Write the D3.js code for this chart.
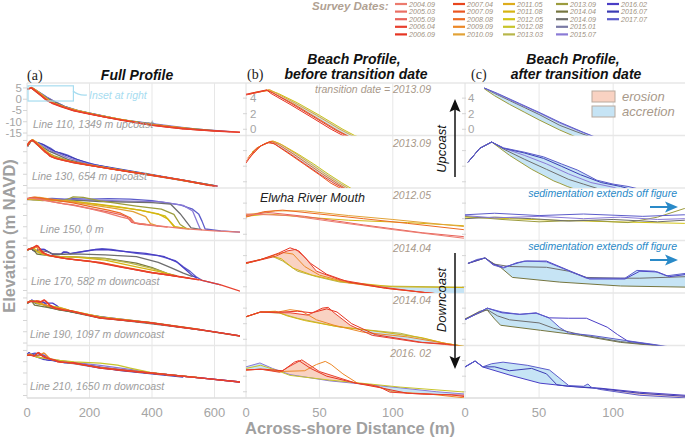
<!DOCTYPE html>
<html><head><meta charset="utf-8">
<script src="https://cdn.jsdelivr.net/npm/d3@7"></script>
<style>
body{margin:0;background:#fff}
svg{display:block}
text{font-family:"Liberation Sans",Arial,Helvetica,sans-serif}
</style>
</head><body>
<svg id="chart" width="685" height="439"></svg>
<script>
// ---------------- DATA ----------------
const surveyDates = ["2004.09","2005.03","2005.09","2006.04","2006.09",
  "2007.04","2007.09","2008.08","2009.09","2010.09",
  "2011.05","2011.08","2012.05","2012.08","2013.03",
  "2013.09","2014.04","2014.09","2015.01","2015.07",
  "2016.02","2016.07","2017.07"];
const surveyColors = ["#ec7b6e","#ea6f64","#e8625a","#e8402e","#e63422",
  "#e8461e","#ea5620","#ec6a22","#ec8826","#e2a236",
  "#deac1c","#d6b412","#d2c416","#c8c42a","#b8b64a",
  "#9c9c3e","#767640","#6e6e6e","#7a7aa4","#8a7ad6",
  "#4a3ec6","#3c3cb4","#5c5cca"];
const lineNames = ["Line 110, 1349 m upcoast","Line 130, 654 m upcoast","Line 150, 0 m",
  "Line 170, 582 m downcoast","Line 190, 1097 m downcoast","Line 210, 1650 m downcoast"];
const transitionDates = ["2013.09","2013.09","2012.05","2014.04","2014.04","2016.02"];
const transitionLabels = ["transition date =  2013.09","2013.09","2012.05","2014.04","2014.04","2016. 02"];
const showFill = [true,true,false,true,true,true];
const xTicksFull = [0,200,400,600];
const xTicksBeach = [0,50,100];
const yTicksFull = [5,0,-5,-10,-15];
const yTicksBeach = [4,2,0];

// profiles: [across-shore distance (m), elevation (m NAVD)]
const line110 = [
 {date:"2006.04", pts:[[0,4.4],[14,5.0],[18,4.7],[30,3.4],[45,1.7],[60,0.0],[68,-0.8],[80,-1.6],[110,-3.2],[150,-5.1],[200,-6.5],[250,-7.9],[300,-9.2],[350,-10.4],[400,-11.5],[450,-12.4],[500,-13.1],[550,-13.6],[600,-14.0],[682,-14.6]]},
 {date:"2006.09", pts:[[0,4.5],[14,5.05],[17,4.6],[30,3.2],[45,1.5],[58,0.0],[66,-0.8],[80,-1.8],[110,-3.4],[150,-5.2],[200,-6.6],[300,-9.3],[400,-11.6],[500,-13.2],[600,-14.1],[682,-14.7]]},
 {date:"2008.08", pts:[[2,4.5],[15,5.0],[19,4.6],[32,3.3],[47,1.6],[62,-0.1],[70,-0.9],[85,-1.8],[120,-3.6],[160,-5.3],[250,-7.9],[400,-11.4],[560,-13.7]]},
 {date:"2010.09", pts:[[3,4.6],[16,5.1],[20,4.7],[34,3.3],[48,1.8],[64,0.0],[72,-0.8],[90,-2.0],[120,-3.5],[200,-6.4],[350,-10.3],[520,-13.2]]},
 {date:"2012.05", pts:[[5,4.7],[16,5.0],[22,4.6],[35,3.4],[50,1.8],[66,0.0],[74,-0.8],[92,-2.0],[130,-3.9],[220,-6.9],[400,-11.4]]},
 {date:"2013.09", pts:[[13,5.2],[20,4.3],[30,3.2],[40,2.2],[50,1.2],[64,-0.1],[75,-1.0],[90,-2.0],[120,-3.6],[150,-4.9],[250,-7.8],[400,-11.4],[600,-14.0]]},
 {date:"2014.09", pts:[[13,5.3],[20,4.6],[30,3.7],[40,2.8],[50,1.9],[64,0.5],[75,-0.3],[88,-1.2],[120,-3.3],[160,-5.0],[300,-9.1],[500,-13.0]]},
 {date:"2015.07", pts:[[13,5.3],[20,4.7],[37,3.2],[50,2.1],[64,0.8],[78,-0.3],[90,-1.2],[120,-3.2],[170,-5.3],[300,-9.1],[560,-13.6]]},
 {date:"2017.07", pts:[[13,5.3],[22,4.6],[37,3.3],[52,2.0],[64,0.9],[80,-0.4],[92,-1.3],[120,-3.2],[150,-4.7],[200,-6.3],[300,-9.1],[450,-12.3],[650,-14.4]]}
];
const line130 = [
 {date:"2006.04", pts:[[0,2.4],[6,4.0],[11,4.7],[16,5.1],[20,4.8],[30,3.6],[40,2.3],[50,1.0],[60,-0.2],[66,-0.8],[74,-2.0],[90,-3.0],[150,-4.9],[234,-6.8],[300,-8.3],[394,-10.3],[500,-12.6],[586,-15.0],[610,-15.3]]},
 {date:"2007.09", pts:[[0,2.6],[5,3.6],[10,4.6],[15,5.0],[19,4.9],[30,3.5],[40,2.2],[50,0.9],[58,-0.2],[65,-0.9],[75,-2.1],[100,-3.3],[200,-6.1],[350,-9.5],[500,-12.7],[600,-15.2]]},
 {date:"2008.08", pts:[[1,3.0],[7,4.3],[13,4.9],[17,5.2],[22,4.8],[32,3.6],[42,2.3],[52,1.0],[62,-0.2],[68,-0.9],[80,-2.2],[120,-3.9],[250,-7.2],[450,-11.5],[580,-14.8]]},
 {date:"2010.09", pts:[[2,3.3],[8,4.4],[14,5.0],[18,5.25],[23,4.9],[34,3.6],[44,2.3],[54,1.0],[63,-0.1],[70,-0.9],[85,-2.4],[140,-4.5],[300,-8.3],[500,-12.6]]},
 {date:"2012.05", pts:[[4,3.8],[10,4.6],[16,5.1],[19,5.2],[25,4.7],[36,3.5],[46,2.3],[56,1.0],[65,-0.1],[72,-0.9],[90,-2.6],[160,-5.0],[400,-10.4],[560,-14.3]]},
 {date:"2013.09", pts:[[2,2.5],[10,4.3],[18,5.1],[30,3.4],[45,1.6],[60,0.1],[64,-0.2],[69,-0.6],[90,-2.0],[150,-4.8],[300,-8.3],[500,-12.6],[600,-15.1]]},
 {date:"2014.09", pts:[[2,2.5],[10,4.3],[18,5.1],[26,4.2],[40,2.9],[55,1.6],[70,0.3],[80,-0.3],[95,-1.2],[130,-3.4],[200,-5.9],[400,-10.3],[580,-14.8]]},
 {date:"2015.07", pts:[[2,2.5],[10,4.3],[18,5.1],[26,4.3],[40,3.4],[55,2.3],[70,1.0],[85,-0.1],[100,-0.7],[130,-2.6],[200,-5.6],[350,-9.4],[560,-14.3]]},
 {date:"2016.07", pts:[[2,2.5],[10,4.3],[18,5.1],[26,4.3],[40,3.7],[53,3.0],[65,2.0],[78,0.9],[92,-0.1],[105,-0.6],[130,-1.9],[200,-5.4],[400,-10.2],[600,-15.1]]},
 {date:"2017.07", pts:[[2,2.5],[10,4.3],[18,5.1],[26,4.35],[40,3.8],[53,3.2],[65,2.3],[76,1.5],[89,0.2],[100,-0.3],[110,-0.6],[130,-1.5],[160,-3.5],[220,-5.8],[300,-8.2],[450,-11.5],[610,-15.3]]}
];
const line150 = [
 {date:"2004.09", pts:[[0,2.6],[30,2.4],[60,1.6],[100,0.6],[148,-0.5],[200,-2.0],[250,-3.6],[300,-5.6],[330,-6.6],[345,-8.3],[400,-9.3],[500,-10.8],[600,-11.8],[682,-12.4]]},
 {date:"2005.09", pts:[[0,2.4],[15,2.8],[40,2.3],[80,1.2],[120,0.2],[148,-0.3],[200,-1.8],[260,-3.4],[300,-4.6],[320,-5.6],[335,-8.0],[360,-8.8],[450,-10.2]]},
 {date:"2008.08", pts:[[0,2.2],[12,2.9],[25,3.1],[50,2.6],[80,2.0],[110,1.4],[148,0.6],[200,-1.0],[260,-2.6],[300,-4.0],[330,-6.0],[345,-8.4],[380,-9.0]]},
 {date:"2010.09", pts:[[0,2.5],[20,3.0],[40,3.0],[70,2.4],[100,1.9],[148,1.0],[200,-0.2],[280,-1.8],[340,-3.3],[380,-5.5],[395,-8.6],[420,-9.7]]},
 {date:"2011.08", pts:[[0,2.3],[15,2.6],[40,2.2],[70,1.8],[110,1.5],[148,1.1],[220,0.1],[300,-1.3],[360,-2.6],[420,-4.3],[450,-6.5],[470,-9.9],[500,-10.6]]},
 {date:"2012.05", pts:[[0,2.2],[30,2.0],[60,1.8],[100,1.6],[148,1.4],[234,-0.3],[362,-2.6],[442,-5.2],[474,-10.1],[520,-11.0]]},
 {date:"2013.09", pts:[[0,2.3],[25,1.9],[50,1.6],[80,1.8],[110,1.5],[130,2.2],[148,3.3],[180,3.0],[234,1.5],[350,-0.8],[430,-2.2],[470,-4.5],[490,-9.0],[510,-10.8]]},
 {date:"2014.09", pts:[[0,2.0],[20,2.2],[45,2.0],[70,1.7],[100,1.9],[130,1.6],[148,1.8],[234,1.2],[400,0.7],[460,0.0],[490,-4.2],[525,-10.5],[560,-11.3]]},
 {date:"2015.07", pts:[[0,2.4],[20,2.1],[50,2.3],[80,2.0],[105,2.2],[130,1.9],[148,2.0],[300,1.5],[430,1.0],[500,-0.5],[530,-3.0],[545,-8.0],[555,-11.2]]},
 {date:"2017.07", pts:[[0,2.5],[20,2.7],[50,2.4],[80,2.6],[120,2.3],[148,2.5],[200,2.3],[260,2.5],[330,2.3],[400,1.6],[490,-0.3],[530,-2.2],[550,-4.5],[560,-7.5],[570,-11.0],[620,-11.8],[682,-12.4]]}
];
const line170 = [
 {date:"2006.04", pts:[[0,3.0],[9,3.4],[20,3.9],[28,4.6],[34,4.8],[40,3.8],[48,2.0],[64,0.9],[91,0.0],[120,-0.7],[150,-1.3],[234,-2.5],[300,-4.5],[394,-7.0],[450,-8.0],[554,-10.3],[620,-12.5],[682,-15.3]]},
 {date:"2006.09", pts:[[0,3.1],[10,3.5],[22,4.3],[30,5.0],[36,4.6],[44,3.0],[55,1.6],[70,0.6],[95,-0.2],[125,-0.8],[200,-2.0],[300,-4.6],[400,-7.1],[550,-10.3]]},
 {date:"2009.09", pts:[[0,3.0],[12,3.6],[25,4.4],[32,4.2],[40,2.6],[50,1.5],[70,0.5],[100,-0.3],[140,-1.1],[250,-3.0],[400,-7.0],[520,-9.5]]},
 {date:"2011.08", pts:[[0,3.0],[10,3.5],[18,3.9],[24,3.6],[32,2.4],[45,1.5],[64,0.7],[100,0.0],[148,-0.1],[250,-1.5],[350,-4.5],[420,-6.5],[470,-8.3]]},
 {date:"2013.03", pts:[[0,3.0],[10,3.5],[18,3.9],[25,3.3],[35,2.0],[48,1.3],[64,0.6],[91,0.1],[148,-0.05],[250,-0.8],[330,-2.8],[394,-5.0],[430,-6.5],[460,-8.0]]},
 {date:"2014.04", pts:[[2,3.0],[13.5,3.7],[18,3.1],[24,2.5],[32,1.2],[64,0.6],[105,0.1],[150,-0.05],[250,-0.7],[350,-2.8],[400,-4.8],[450,-7.5],[480,-8.5]]},
 {date:"2014.09", pts:[[2,3.0],[13.5,3.7],[20,2.9],[30,2.6],[55,2.5],[70,2.0],[82,1.2],[105,1.1],[118,1.1],[150,1.3],[250,0.8],[350,0.0],[420,-2.5],[460,-4.8],[500,-7.3],[530,-8.8]]},
 {date:"2016.02", pts:[[2,3.0],[13.5,3.7],[19,2.9],[26,2.5],[40,3.3],[55,3.3],[70,2.1],[84,1.0],[108,1.0],[118,2.0],[130,1.9],[138,1.3],[150,1.6],[220,3.2],[260,3.1],[300,2.5],[380,1.5],[440,0.0],[480,-2.4],[510,-6.0],[530,-8.5],[545,-9.5]]},
 {date:"2017.07", pts:[[2,3.0],[8,3.5],[13.5,3.7],[19,2.8],[26,2.4],[35,3.1],[42,3.3],[55,3.2],[68,2.2],[82,1.1],[108,1.1],[116,2.1],[128,2.0],[136,1.4],[150,1.75],[200,2.8],[240,3.6],[270,3.3],[300,2.6],[350,1.5],[420,0.5],[474,-1.7],[500,-4.5],[522,-6.5],[540,-8.8],[560,-10.5],[620,-12.5]]}
];
const line190 = [
 {date:"2006.04", pts:[[0,2.9],[10,3.5],[22,3.4],[30,3.4],[42,3.1],[52,4.0],[56,4.1],[60,3.4],[71,1.8],[86,0.5],[118,-0.4],[135,-0.65],[234,-3.9],[300,-4.8],[394,-6.1],[480,-7.8],[554,-9.2],[620,-10.5],[682,-11.9]]},
 {date:"2006.09", pts:[[0,2.9],[10,3.5],[25,3.5],[35,3.6],[45,3.4],[55,3.9],[62,3.5],[72,2.0],[88,0.6],[120,-0.4],[136,-0.6],[234,-3.8],[394,-6.0],[554,-9.1],[682,-11.8]]},
 {date:"2009.09", pts:[[0,2.9],[10,3.5],[22,3.5],[30,3.8],[38,3.6],[48,2.5],[60,1.8],[80,0.9],[110,0.3],[135,-0.5],[234,-3.6],[394,-6.0],[554,-9.1]]},
 {date:"2011.08", pts:[[0,2.9],[10,3.5],[20,3.6],[28,3.0],[40,2.4],[60,1.7],[90,1.0],[120,0.2],[135,-0.5],[234,-3.5],[394,-6.0]]},
 {date:"2013.03", pts:[[0,2.85],[9.5,3.5],[23,3.36],[35,2.7],[64,1.55],[105,0.78],[135,-0.5],[234,-3.4],[394,-5.9],[554,-9.0]]},
 {date:"2014.04", pts:[[0,2.6],[10,3.6],[15,3.75],[20,2.6],[24,1.8],[51,1.15],[78,0.5],[105,-0.4],[125,-0.75],[234,-3.9],[394,-6.1],[554,-9.2],[682,-11.9]]},
 {date:"2014.09", pts:[[0,2.6],[15,3.8],[22,3.0],[30,2.5],[50,2.1],[60,1.4],[78,0.6],[105,-0.3],[125,-0.7],[300,-4.8],[500,-8.2]]},
 {date:"2016.02", pts:[[0,2.5],[15,4.0],[25,3.4],[37,3.2],[48,3.35],[57,2.75],[70,2.7],[82,2.7],[96,1.55],[103,0.6],[110,-0.25],[125,-0.65],[200,-2.7],[394,-6.0],[554,-9.2]]},
 {date:"2017.07", pts:[[0,2.5],[15,4.0],[25,3.5],[37,3.2],[48,3.4],[57,2.7],[64,1.5],[70,0.8],[85,0.5],[110,-0.2],[125,-0.6],[234,-3.7],[394,-6.0],[554,-9.1],[682,-11.8]]}
];
const line210 = [
 {date:"2006.04", pts:[[0,2.8],[10,2.9],[23,2.5],[30,3.3],[38,4.1],[42,3.6],[50,2.6],[60,2.0],[75,1.1],[85,0.9],[91,0.6],[98,-0.05],[120,-0.3],[150,-0.45],[234,-2.8],[300,-3.8],[394,-5.0],[480,-6.2],[554,-7.2],[620,-8.2],[682,-9.0]]},
 {date:"2006.09", pts:[[0,2.8],[12,2.9],[25,2.7],[33,3.8],[36,4.0],[44,3.0],[55,2.0],[75,1.1],[92,0.5],[110,-0.2],[140,-0.4],[234,-2.7],[394,-5.0],[554,-7.2],[682,-9.0]]},
 {date:"2009.09", pts:[[0,2.8],[10,2.9],[23,2.6],[40,2.7],[48,3.5],[54,3.9],[58,3.5],[66,2.3],[76,1.1],[91,0.6],[100,0.0],[125,-0.3],[234,-2.5],[394,-5.0],[554,-7.2]]},
 {date:"2012.08", pts:[[0,3.0],[10,3.4],[20,2.8],[30,2.1],[57,1.5],[84,1.0],[105,0.6],[150,-0.05],[234,-0.6],[290,-1.5],[330,-2.8],[394,-4.7],[450,-5.7],[554,-7.1]]},
 {date:"2015.07", pts:[[0,3.2],[9.5,3.7],[18,3.0],[30,2.2],[57,1.4],[84,0.9],[105,0.5],[130,0.0],[150,-0.3],[234,-1.6],[330,-3.4],[394,-4.9],[554,-7.2]]},
 {date:"2016.02", pts:[[0,3.17],[6.8,3.94],[12.2,3.17],[30.4,2.13],[50.7,1.1],[69.6,0.72],[91.2,0.46],[118,-0.06],[148.6,-0.45],[234,-2.4],[394,-5.0],[554,-7.2],[682,-9.0]]},
 {date:"2016.07", pts:[[0,3.2],[6.8,3.95],[12,3.2],[20,3.2],[30,2.7],[35,2.8],[45,3.0],[55,2.3],[62,0.9],[70,0.7],[91,0.4],[118,-0.2],[150,-0.6],[300,-3.9],[500,-6.8]]},
 {date:"2017.07", pts:[[0,3.2],[6.8,3.95],[12,3.2],[18,3.6],[25.7,3.8],[42,3.4],[57,2.8],[70,0.8],[80,0.7],[83,1.0],[85,0.6],[91,0.3],[118,-0.45],[150,-0.8],[234,-2.8],[394,-5.0],[554,-7.2],[682,-9.0]]}
];
const profilesByLine = [line110, line130, line150, line170, line190, line210];

// ---------------- LAYOUT ----------------
const svg = d3.select("#chart");
const rowTop0 = 83, rowH = 52.5, nRows = 6;
const rowTop = r => rowTop0 + r*rowH;
const xFull = d3.scaleLinear().domain([0, 681.6]).range([27, 240]);
const xB = d3.scaleLinear().domain([0, 148.5]).range([246, 464]);
const xC = d3.scaleLinear().domain([0, 148.5]).range([465, 685]);
const yFull = r => d3.scaleLinear().domain([-16.1, 7.2]).range([rowTop(r)+rowH, rowTop(r)]);
const yBeach = r => d3.scaleLinear().domain([-0.8, 5.94]).range([rowTop(r)+rowH, rowTop(r)]);
const colorOf = d => surveyColors[surveyDates.indexOf(d)];
const tan = "#a8998a", gray = "#9d9d9d", gridC = "#e7e7e7";
const pinkFill = "#f9d2c2", blueFill = "#c6e4f5";

const defs = svg.append("defs");

// grid
const cols = [{xs:xFull, ticks:xTicksFull},{xs:xB, ticks:xTicksBeach},{xs:xC, ticks:xTicksBeach}];
cols.forEach(c => {
  c.ticks.forEach(t => {
    if (t === 0) return;
    svg.append("line").attr("x1", c.xs(t)).attr("x2", c.xs(t))
      .attr("y1", rowTop0).attr("y2", rowTop(nRows)).attr("stroke", gridC).attr("stroke-width", 1);
  });
});
for (let r = 0; r <= nRows; r++) {
  svg.append("line").attr("x1", 27).attr("x2", 685).attr("y1", rowTop(r)).attr("y2", rowTop(r))
    .attr("stroke", r === nRows ? "#dcdcdc" : gridC).attr("stroke-width", 1.5);
}
[27, 246, 465].forEach(x => svg.append("line").attr("x1", x).attr("x2", x)
  .attr("y1", rowTop0).attr("y2", rowTop(nRows)).attr("stroke", "#e0e0e0").attr("stroke-width", 1));

// y ticks
for (let r = 0; r < nRows; r++) {
  const yf = yFull(r), yb = yBeach(r);
  yTicksFull.forEach(t => {
    svg.append("line").attr("x1", 23).attr("x2", 27).attr("y1", yf(t)).attr("y2", yf(t)).attr("stroke", "#d5d5d5");
    if (r === 0) svg.append("text").attr("x", 22).attr("y", yf(t)+4).attr("text-anchor", "end")
      .attr("font-size", 11.5).attr("fill", "#a5a5a5").text(t);
  });
  [[xB, 250], [xC, 468]].forEach(([xs, lx]) => {
    yTicksBeach.forEach(t => {
      svg.append("line").attr("x1", xs.range()[0]-3).attr("x2", xs.range()[0]+1).attr("y1", yb(t)).attr("y2", yb(t)).attr("stroke", "#d5d5d5");
      if (r === 0) svg.append("text").attr("x", lx).attr("y", yb(t)+4)
        .attr("font-size", 11.5).attr("fill", "#a5a5a5").text(t);
    });
  });
}
// x tick labels
cols.forEach(c => c.ticks.forEach(t => {
  svg.append("text").attr("x", c.xs(t)).attr("y", 417).attr("text-anchor", "middle")
    .attr("font-size", 13).attr("fill", "#a5a5a5").text(t);
}));

// helpers
function interp(pts, x) {
  for (let i = 0; i < pts.length - 1; i++) {
    const a = pts[i], b = pts[i+1];
    if (x >= a[0] && x <= b[0]) return a[1] + (b[1]-a[1]) * (x - a[0]) / (b[0] - a[0]);
  }
  return null;
}
function drawFill(g, first, last, xs, ys) {
  const x0 = Math.max(first.pts[0][0], last.pts[0][0], xs.domain()[0]);
  const x1 = Math.min(first.pts[first.pts.length-1][0], last.pts[last.pts.length-1][0], xs.domain()[1]);
  if (x1 <= x0) return;
  const grid = d3.range(x0, x1, 0.25).concat([x1]);
  const rows = grid.map(x => ({x, a: interp(first.pts, x), b: interp(last.pts, x)})).filter(d => d.a !== null && d.b !== null);
  g.append("path").datum(rows).attr("fill", pinkFill)
    .attr("d", d3.area().x(d => xs(d.x)).y0(d => ys(d.a)).y1(d => ys(Math.min(d.a, d.b))));
  g.append("path").datum(rows).attr("fill", blueFill)
    .attr("d", d3.area().x(d => xs(d.x)).y0(d => ys(d.a)).y1(d => ys(Math.max(d.a, d.b))));
}

// panels
for (let r = 0; r < nRows; r++) {
  const profs = profilesByLine[r];
  const tr = transitionDates[r];
  const before = profs.filter(p => p.date < tr);
  const after = profs.filter(p => p.date >= tr);
  const panels = [
    {id:"a", xs:xFull, ys:yFull(r), list:profs.slice().reverse(), fillPair:null, sw:1.3},
    {id:"b", xs:xB, ys:yBeach(r), list:before.slice().reverse(), fillPair: showFill[r] ? [before[0], before[before.length-1]] : null, sw:1.0},
    {id:"c", xs:xC, ys:yBeach(r), list:after, fillPair: showFill[r] ? [after[0], after[after.length-1]] : null, sw:1.0}
  ];
  panels.forEach(p => {
    const cid = "clip-" + p.id + r;
    defs.append("clipPath").attr("id", cid).append("rect")
      .attr("x", p.xs.range()[0]).attr("y", rowTop(r)).attr("width", p.xs.range()[1]-p.xs.range()[0]).attr("height", rowH);
    const g = svg.append("g").attr("clip-path", "url(#" + cid + ")");
    if (p.fillPair) drawFill(g, p.fillPair[0], p.fillPair[1], p.xs, p.ys);
    const lineGen = d3.line().x(d => p.xs(d[0])).y(d => p.ys(d[1]));
    p.list.forEach(pr => {
      g.append("path").datum(pr.pts).attr("d", lineGen).attr("fill", "none")
        .attr("stroke", colorOf(pr.date)).attr("stroke-width", p.sw).attr("stroke-linejoin", "round");
    });
  });
  // labels
  svg.append("text").attr("x", [33,32,40,31,30,30][r]).attr("y", rowTop(r) + 44.5)
    .attr("font-size", 10.5).attr("font-style", "italic").attr("fill", gray).text(lineNames[r]);
  svg.append("text").attr("x", 431).attr("y", rowTop(r) + (r === 0 ? 9.5 : 11))
    .attr("text-anchor", "end").attr("font-size", 10.5).attr("font-style", "italic").attr("fill", tan).text(transitionLabels[r]);
}

// Inset box
svg.append("rect").attr("x", xFull(0)+1).attr("y", yFull(0)(5.94)).attr("width", xFull(148.5)-xFull(0)-1)
  .attr("height", yFull(0)(-0.8)-yFull(0)(5.94)).attr("fill", "none").attr("stroke", "#a6dcf0").attr("stroke-width", 1.2);
svg.append("path").attr("d", "M73,91 Q79,96 87,95").attr("fill", "none").attr("stroke", "#a6dcf0").attr("stroke-width", 1.2);
svg.append("text").attr("x", 89).attr("y", 99).attr("font-size", 10.5).attr("font-style", "italic").attr("fill", "#a6dcf0").text("Inset at right");

// Elwha River Mouth
svg.append("text").attr("x", 260).attr("y", 202).attr("font-size", 12.5).attr("font-style", "italic").attr("fill", "#222").text("Elwha River Mouth");

// sedimentation notes
[197, 250].forEach((ty, i) => {
  svg.append("text").attr("x", 677).attr("y", ty).attr("text-anchor", "end").attr("font-size", 10.5)
    .attr("font-style", "italic").attr("fill", "#2a8ac8").text("sedimentation extends off figure");
  const ay = i === 0 ? 207 : 260;
  svg.append("line").attr("x1", 650).attr("x2", 669).attr("y1", ay).attr("y2", ay).attr("stroke", "#2a8ac8").attr("stroke-width", 2);
  svg.append("path").attr("d", `M678,${ay} L665,${ay-5.5} L668,${ay} L665,${ay+5.5} Z`).attr("fill", "#2a8ac8");
});

// erosion / accretion legend
[["erosion", pinkFill, 91], ["accretion", blueFill, 106]].forEach(([lab, col, y]) => {
  svg.append("rect").attr("x", 592).attr("y", y).attr("width", 23).attr("height", 11)
    .attr("fill", col).attr("stroke", "#b9aa9e").attr("stroke-width", 1);
  svg.append("text").attr("x", 622).attr("y", y + 10).attr("font-size", 13).attr("font-style", "italic").attr("fill", tan).text(lab);
});

// Upcoast / Downcoast arrows
svg.append("line").attr("x1", 455).attr("x2", 455).attr("y1", 108).attr("y2", 177).attr("stroke", "#111").attr("stroke-width", 1.5);
svg.append("path").attr("d", "M455,99 L449.5,112 L455,109.5 L460.5,112 Z").attr("fill", "#111");
svg.append("line").attr("x1", 455).attr("x2", 455).attr("y1", 253).attr("y2", 360).attr("stroke", "#111").attr("stroke-width", 1.5);
svg.append("path").attr("d", "M455,369 L449.5,356 L455,358.5 L460.5,356 Z").attr("fill", "#111");
svg.append("text").attr("transform", "translate(446,149) rotate(-90)").attr("text-anchor", "middle")
  .attr("font-size", 13).attr("font-style", "italic").attr("fill", "#111").text("Upcoast");
svg.append("text").attr("transform", "translate(446,300) rotate(-90)").attr("text-anchor", "middle")
  .attr("font-size", 13).attr("font-style", "italic").attr("fill", "#111").text("Downcoast");

// titles
svg.append("text").attr("x", 27).attr("y", 80).style("font-family", "'Liberation Serif','DejaVu Serif',serif")
  .attr("font-size", 14).attr("fill", "#222").text("(a)");
svg.append("text").attr("x", 247).attr("y", 79).style("font-family", "'Liberation Serif','DejaVu Serif',serif")
  .attr("font-size", 14).attr("fill", "#222").text("(b)");
svg.append("text").attr("x", 471).attr("y", 79).style("font-family", "'Liberation Serif','DejaVu Serif',serif")
  .attr("font-size", 14).attr("fill", "#222").text("(c)");
const titleAttr = sel => sel.attr("text-anchor", "middle").attr("font-size", 14).attr("font-weight", "bold").attr("font-style", "italic").attr("fill", "#111");
titleAttr(svg.append("text").attr("x", 137).attr("y", 80).text("Full Profile"));
titleAttr(svg.append("text").attr("x", 354).attr("y", 64).text("Beach Profile,"));
titleAttr(svg.append("text").attr("x", 356).attr("y", 79).text("before transition date"));
titleAttr(svg.append("text").attr("x", 573).attr("y", 64).text("Beach Profile,"));
titleAttr(svg.append("text").attr("x", 576).attr("y", 79).text("after transition date"));

// axis titles
svg.append("text").attr("transform", "translate(15,236) rotate(-90)").attr("text-anchor", "middle")
  .attr("font-size", 16.5).attr("font-weight", "bold").attr("fill", "#a0a0a0").text("Elevation (m NAVD)");
svg.append("text").attr("x", 350).attr("y", 434).attr("text-anchor", "middle")
  .attr("font-size", 16.5).attr("font-weight", "bold").attr("fill", "#a0a0a0").text("Across-shore Distance (m)");

// Survey dates legend
svg.append("text").attr("x", 312).attr("y", 10).attr("font-size", 11.5).attr("font-weight", "bold")
  .attr("font-style", "italic").attr("fill", "#b0a192").text("Survey Dates:");
const legCols = [409, 467, 517, 570, 621];
surveyDates.forEach((d, i) => {
  const c = Math.floor(i / 5), rr = i % 5;
  const tx = legCols[c], cy = 4 + rr * 7.6;
  svg.append("line").attr("x1", tx - 14).attr("x2", tx - 2).attr("y1", cy).attr("y2", cy)
    .attr("stroke", surveyColors[i]).attr("stroke-width", 2.2);
  svg.append("text").attr("x", tx).attr("y", cy + 2.6).attr("font-size", 7.2).attr("font-style", "italic")
    .attr("fill", "#a09383").text(d);
});
</script>
</body></html>
